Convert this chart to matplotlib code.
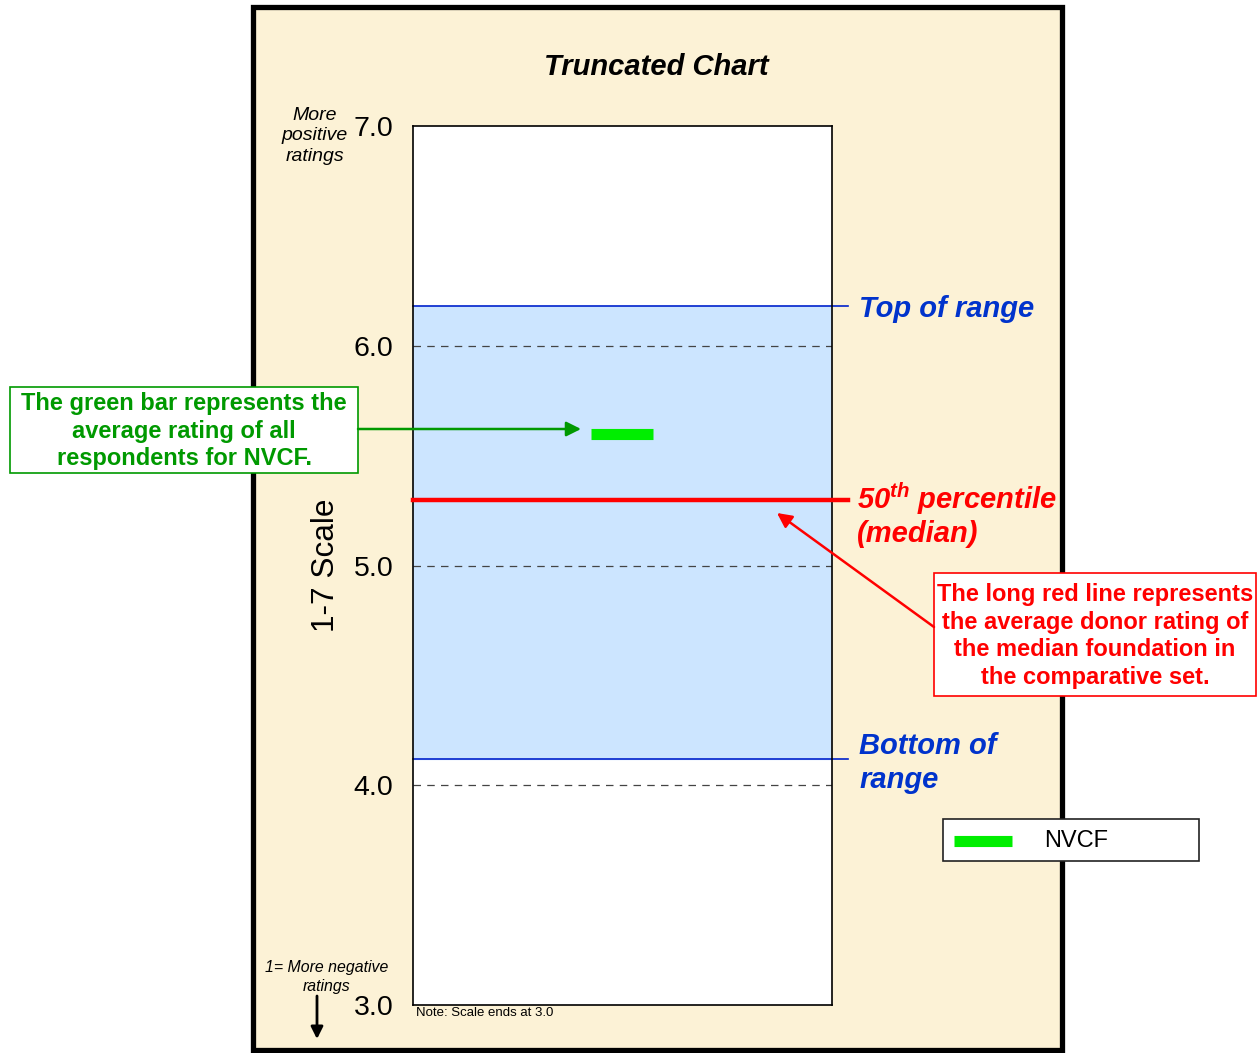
import matplotlib
matplotlib.use("Agg")
import matplotlib.pyplot as plt
from matplotlib.patches import Rectangle, FancyArrowPatch
from matplotlib.lines import Line2D

plt.rcParams['font.family'] = ['Liberation Sans', 'DejaVu Sans']
plt.rcParams['mathtext.fontset'] = 'custom'
plt.rcParams['mathtext.rm'] = 'Liberation Sans:italic:bold'

# data
range_top = 6.18
range_bottom = 4.12
median = 5.30
nvcf_avg = 5.60
y_ticks = [3.0, 4.0, 5.0, 6.0, 7.0]
grid_levels = [4.0, 5.0, 6.0]
series_name = "NVCF"

W, H = 1257, 1053
def fx(px):
    return px / W
def fy(py):
    return 1 - py / H

fig = plt.figure(figsize=(W / 100, H / 100), dpi=100)

# beige panel behind everything
panel = Rectangle((fx(253), fy(1050)), fx(1062) - fx(253), fy(7) - fy(1050),
                  transform=fig.transFigure, facecolor='#FCF2D6',
                  edgecolor='black', lw=3.8, zorder=-1)
fig.add_artist(panel)

ax = fig.add_axes([fx(413), fy(1005), fx(832) - fx(413), fy(126) - fy(1005)])
ax.set_facecolor('white')
ax.set_xlim(0, 1)
ax.set_ylim(3, 7)
ax.set_xticks([])
ax.set_yticks(y_ticks)
ax.set_yticklabels([f"{t:.1f}" for t in y_ticks], fontsize=20.5)
ax.tick_params(axis='y', length=0, pad=14)
for s in ax.spines.values():
    s.set_linewidth(1.2)

# blue range band
ax.axhspan(range_bottom, range_top, color='#CCE5FF', zorder=0)
for lv in grid_levels:
    ax.axhline(lv, color='#444444', lw=0.9, dashes=(6, 5), zorder=1)
ext = (848 - 413) / (832 - 413)
ax.plot([0, ext], [range_top, range_top], color='#0022CC', lw=1.2, clip_on=False, zorder=2)
ax.plot([0, ext], [range_bottom, range_bottom], color='#0022CC', lw=1.2, clip_on=False, zorder=2)
ax.plot([0, ext], [median, median], color='#FF0000', lw=3.2, clip_on=False, zorder=3)
ax.plot([0.425, 0.573], [nvcf_avg, nvcf_avg], color='#00EE00', lw=8, solid_capstyle='butt', zorder=4)

ax.set_ylabel("1-7 Scale", fontsize=22.7)
ax.yaxis.set_label_coords(fx(341), fy(565), transform=fig.transFigure)

fig.text(fx(656), fy(67), "Truncated Chart", fontsize=21, fontweight='bold',
         style='italic', ha='center', va='center')
fig.text(fx(315), fy(136), "More\npositive\nratings", fontsize=14, style='italic',
         ha='center', va='center', linespacing=1.25)
fig.text(fx(327), fy(977), "1= More negative\nratings", fontsize=11.4, style='italic',
         ha='center', va='center', linespacing=1.28)
fig.text(fx(416), fy(1013), "Note: Scale ends at 3.0", fontsize=9.5, ha='left', va='center')

blue = '#0033CC'
fig.text(fx(859), fy(309), "Top of range", fontsize=21, fontweight='bold', style='italic',
         color=blue, ha='left', va='center')
fig.text(fx(859), fy(763), "Bottom of\nrange", fontsize=21, fontweight='bold', style='italic',
         color=blue, ha='left', va='center', linespacing=1.28)
fig.text(fx(857), fy(499), r"50$^{\mathrm{th}}$ percentile", fontsize=21, fontweight='bold',
         style='italic', color='#FF0000', ha='left', va='center')
fig.text(fx(857), fy(534), "(median)", fontsize=21, fontweight='bold', style='italic',
         color='#FF0000', ha='left', va='center')

# green note box
fig.add_artist(Rectangle((fx(10), fy(473)), fx(358) - fx(10), fy(387) - fy(473),
                         transform=fig.transFigure, facecolor='white',
                         edgecolor='#009900', lw=1.2, zorder=5))
fig.text(fx(184), fy(431), "The green bar represents the\naverage rating of all\nrespondents for NVCF.",
         fontsize=17, fontweight='bold', color='#009900', ha='center', va='center',
         linespacing=1.23, zorder=6)
fig.add_artist(FancyArrowPatch((fx(358), fy(429)), (fx(581), fy(429)), transform=fig.transFigure,
                               arrowstyle='-|>', mutation_scale=22, color='#009900', lw=1.8,
                               shrinkA=0, shrinkB=0, zorder=6))

# red note box
fig.add_artist(Rectangle((fx(934), fy(696)), fx(1256) - fx(934), fy(573) - fy(696),
                         transform=fig.transFigure, facecolor='white',
                         edgecolor='#FF0000', lw=1.2, zorder=5))
fig.text(fx(1095), fy(636), "The long red line represents\nthe average donor rating of\nthe median foundation in\nthe comparative set.",
         fontsize=17, fontweight='bold', color='#FF0000', ha='center', va='center',
         linespacing=1.25, zorder=6)
fig.add_artist(FancyArrowPatch((fx(934), fy(627)), (fx(777), fy(513)), transform=fig.transFigure,
                               arrowstyle='-|>', mutation_scale=22, color='#FF0000', lw=1.8,
                               shrinkA=0, shrinkB=0, zorder=6))

# down arrow
fig.add_artist(FancyArrowPatch((fx(317), fy(996)), (fx(317), fy(1039)), transform=fig.transFigure,
                               arrowstyle='-|>', mutation_scale=18, color='black', lw=2,
                               shrinkA=0, shrinkB=0, zorder=6))

# legend
fig.add_artist(Rectangle((fx(943), fy(861)), fx(1199) - fx(943), fy(819) - fy(861),
                         transform=fig.transFigure, facecolor='white',
                         edgecolor='#222222', lw=1.2, zorder=5))
fig.add_artist(Line2D([fx(954), fx(1012)], [fy(841), fy(841)], transform=fig.transFigure,
                      color='#00EE00', lw=8, solid_capstyle='butt', zorder=6))
fig.text(fx(1044), fy(841), series_name, fontsize=17, ha='left', va='center', zorder=6)

fig.savefig("out.png", dpi=100)
